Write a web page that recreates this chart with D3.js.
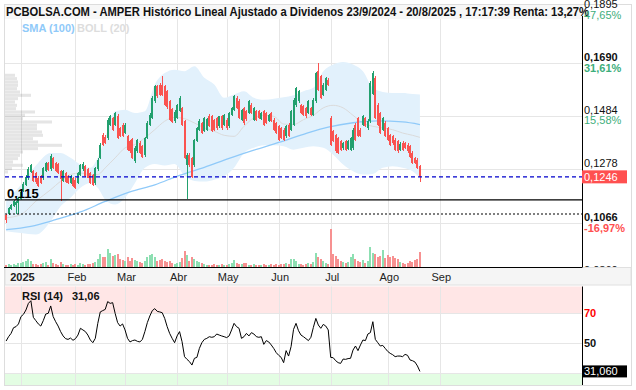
<!DOCTYPE html>
<meta charset="utf-8">
<script src="https://d3js.org/d3.v7.min.js"></script>
<style>
  body { margin: 0; background: #fff; }
  text { font-family: "Liberation Sans", Arial, sans-serif; }
</style>

<svg id="chart" width="636" height="390"></svg>

<script>

  // month ticks (bar index of the first session of each month, Dec 20 2024 = 0)
  var months   = ["2025", "Feb", "Mar", "Abr", "May", "Jun", "Jul", "Ago", "Sep"];
  var monthIdx = [6, 28, 48, 69, 89, 110, 131, 154, 175];

  // daily candles [open, high, low, close]
  var ohlc = [
    [.1096,.1100,.1066,.1079],[.1100,.1127,.1097,.1124],[.1120,.1142,.1115,.1138],[.1133,.1155,.1128,.1150],
    [.1135,.1152,.1101,.1148],[.1145,.1168,.1101,.1163],[.1160,.1192,.1155,.1188],[.1190,.1225,.1186,.1220],
    [.1215,.1252,.1210,.1246],[.1240,.1285,.1232,.1278],[.1265,.1298,.1260,.1292],[.1268,.1274,.1226,.1230],
    [.1262,.1266,.1220,.1225],[.1242,.1250,.1205,.1210],[.1250,.1255,.1218,.1222],[.1240,.1285,.1235,.1280],
    [.1270,.1305,.1265,.1300],[.1300,.1305,.1268,.1272],[.1275,.1334,.1270,.1328],[.1320,.1325,.1278,.1282],
    [.1300,.1305,.1265,.1270],[.1295,.1300,.1258,.1262],[.1268,.1272,.1150,.1236],[.1230,.1272,.1226,.1268],
    [.1262,.1266,.1222,.1226],[.1249,.1252,.1218,.1222],[.1222,.1252,.1218,.1249],[.1242,.1246,.1205,.1210],
    [.1235,.1240,.1200,.1203],[.1222,.1265,.1218,.1262],[.1255,.1298,.1250,.1294],[.1275,.1302,.1270,.1297],
    [.1288,.1292,.1245,.1249],[.1275,.1280,.1240,.1242],[.1262,.1265,.1220,.1222],[.1255,.1258,.1212,.1216],
    [.1222,.1285,.1215,.1281],[.1275,.1318,.1270,.1313],[.1320,.1378,.1315,.1372],[.1410,.1418,.1368,.1372],
    [.1400,.1408,.1375,.1378],[.1397,.1475,.1390,.1469],[.1450,.1488,.1445,.1482],[.1475,.1480,.1425,.1430],
    [.1450,.1500,.1445,.1495],[.1482,.1490,.1392,.1397],[.1437,.1442,.1400,.1405],[.1450,.1455,.1400,.1405],
    [.1418,.1455,.1412,.1450],[.1404,.1410,.1348,.1352],[.1385,.1390,.1340,.1345],[.1392,.1397,.1315,.1320],
    [.1307,.1365,.1300,.1360],[.1345,.1395,.1340,.1390],[.1378,.1385,.1335,.1340],[.1365,.1370,.1320,.1325],
    [.1332,.1402,.1325,.1397],[.1397,.1462,.1392,.1456],[.1450,.1495,.1445,.1489],[.1475,.1560,.1470,.1554],
    [.1540,.1605,.1535,.1599],[.1599,.1605,.1555,.1560],[.1605,.1612,.1562,.1567],[.1605,.1638,.1560,.1567],
    [.1599,.1605,.1522,.1527],[.1580,.1585,.1512,.1517],[.1540,.1545,.1462,.1468],[.1510,.1515,.1455,.1460],
    [.1462,.1505,.1455,.1500],[.1475,.1530,.1470,.1525],[.1503,.1560,.1498,.1554],[.1515,.1520,.1445,.1450],
    [.1463,.1468,.1315,.1320],[.1293,.1338,.1158,.1333],[.1333,.1340,.1285,.1293],[.1320,.1325,.1240,.1245],
    [.1293,.1393,.1285,.1388],[.1385,.1440,.1380,.1437],[.1430,.1470,.1425,.1463],[.1455,.1460,.1415,.1418],
    [.1425,.1480,.1420,.1476],[.1430,.1475,.1425,.1470],[.1482,.1490,.1440,.1445],[.1482,.1487,.1420,.1424],
    [.1466,.1470,.1425,.1430],[.1475,.1480,.1430,.1436],[.1443,.1485,.1438,.1482],[.1482,.1488,.1430,.1436],
    [.1450,.1492,.1445,.1488],[.1469,.1475,.1430,.1436],[.1443,.1500,.1438,.1495],[.1489,.1520,.1485,.1515],
    [.1508,.1565,.1502,.1560],[.1554,.1562,.1510,.1515],[.1541,.1548,.1470,.1476],[.1469,.1512,.1462,.1508],
    [.1515,.1520,.1450,.1456],[.1502,.1508,.1465,.1470],[.1495,.1545,.1490,.1541],[.1528,.1535,.1490,.1495],
    [.1469,.1520,.1465,.1515],[.1502,.1508,.1465,.1469],[.1502,.1508,.1470,.1476],[.1472,.1500,.1468,.1495],
    [.1502,.1508,.1445,.1450],[.1495,.1500,.1452,.1456],[.1462,.1492,.1458,.1488],[.1495,.1500,.1458,.1462],
    [.1469,.1475,.1425,.1430],[.1456,.1460,.1412,.1417],[.1443,.1450,.1385,.1391],[.1436,.1442,.1392,.1397],
    [.1430,.1435,.1385,.1391],[.1404,.1448,.1398,.1443],[.1450,.1455,.1400,.1404],[.1430,.1505,.1425,.1502],
    [.1450,.1552,.1445,.1547],[.1527,.1598,.1520,.1592],[.1540,.1585,.1535,.1580],[.1527,.1532,.1490,.1495],
    [.1521,.1525,.1482,.1488],[.1515,.1520,.1475,.1482],[.1495,.1545,.1490,.1541],[.1515,.1520,.1482,.1488],
    [.1488,.1552,.1482,.1547],[.1541,.1655,.1535,.1651],[.1657,.1690,.1582,.1586],[.1638,.1645,.1548,.1554],
    [.1567,.1612,.1560,.1605],[.1586,.1636,.1580,.1631],[.1625,.1632,.1600,.1605],[.1475,.1482,.1365,.1372],
    [.1424,.1430,.1380,.1385],[.1410,.1415,.1340,.1346],[.1397,.1402,.1335,.1340],[.1385,.1390,.1348,.1352],
    [.1359,.1382,.1352,.1378],[.1385,.1390,.1348,.1352],[.1356,.1390,.1350,.1385],[.1352,.1402,.1346,.1397],
    [.1359,.1435,.1352,.1430],[.1450,.1455,.1385,.1391],[.1475,.1480,.1400,.1404],[.1430,.1436,.1400,.1404],
    [.1450,.1488,.1445,.1482],[.1475,.1480,.1440,.1443],[.1436,.1470,.1430,.1462],[.1462,.1618,.1455,.1612],
    [.1570,.1660,.1565,.1650],[.1632,.1640,.1470,.1476],[.1528,.1535,.1445,.1450],[.1495,.1500,.1412,.1417],
    [.1430,.1480,.1425,.1475],[.1456,.1462,.1400,.1404],[.1436,.1440,.1385,.1391],[.1410,.1415,.1365,.1372],
    [.1404,.1410,.1372,.1378],[.1391,.1398,.1348,.1352],[.1385,.1390,.1340,.1346],[.1352,.1380,.1346,.1375],
    [.1378,.1385,.1348,.1352],[.1378,.1383,.1355,.1359],[.1372,.1378,.1340,.1346],[.1365,.1370,.1318,.1325],
    [.1339,.1345,.1295,.1300],[.1320,.1325,.1295,.1300],[.1313,.1318,.1275,.1280],[.1287,.1292,.1227,.1246]
  ];

  // volume (millions of shares)
  var volume = [
    0.6,0.8,0.5,0.7,0.6,1.0,
    1.0,1.2,1.4,1.9,1.6,0.8,0.7,0.6,0.8,1.0,1.2,0.6,1.9,0.9,0.7,0.6,1.2,0.8,0.6,0.5,0.7,0.6,
    0.8,0.6,0.9,0.7,0.6,0.8,0.7,0.9,1.2,2.0,3.2,2.5,2.4,4.4,3.5,2.8,3.0,3.2,2.0,1.8,
    1.5,2.4,1.6,2.2,1.8,1.4,1.2,1.0,1.6,2.4,3.0,3.2,2.6,1.6,1.8,2.0,1.5,1.2,1.5,1.0,0.8,
    1.0,1.2,2.2,4.0,3.0,1.6,2.4,2.0,1.5,1.2,1.0,0.8,0.6,0.6,0.5,0.7,0.6,0.5,0.8,0.5,
    0.6,0.8,0.9,1.7,1.0,0.8,0.7,1.0,0.9,0.6,0.5,0.7,0.5,0.6,0.4,0.8,0.6,0.5,0.7,0.6,0.8,
    0.6,0.8,0.7,0.9,0.8,2.1,2.0,1.4,0.8,0.7,0.6,0.8,1.0,0.7,1.2,3.6,2.5,2.0,1.5,1.0,0.8,
    9.5,3.3,2.8,2.0,1.5,1.2,1.0,1.3,2.4,3.2,2.0,1.5,1.2,1.8,1.0,1.5,5.0,3.5,3.2,2.5,2.8,4.3,2.2,
    3.0,2.5,2.8,2.2,2.0,1.2,1.0,0.8,1.0,1.6,1.2,1.8,2.0,3.8
  ];

  // RSI (14)
  var rsi = [
    51.3,54.2,56.4,60.2,60.9,62.7,67.6,69.1,72.0,76.4,78.2,67.1,64.9,62.7,61.3,64.9,69.3,69.8,74.7,67.6,
    64.2,61.3,57.6,54.7,52.9,52.4,53.3,51.8,52.9,55.3,59.8,58.7,57.6,55.3,52.0,50.2,53.1,63.1,70.7,71.6,
    72.4,77.6,76.4,76.9,69.8,63.6,61.3,62.7,58.7,53.1,50.7,51.6,52.0,51.1,50.7,52.4,57.6,63.6,68.0,71.6,
    72.9,71.1,70.7,70.2,66.4,60.9,56.4,53.1,50.2,54.7,57.6,50.9,40.9,39.1,37.6,35.3,39.8,40.4,46.4,50.2,
    52.4,53.1,54.2,53.8,54.2,56.0,55.3,54.7,54.2,53.6,54.7,58.7,63.1,60.9,59.8,53.1,54.2,56.4,54.7,56.9,
    56.0,54.2,53.8,54.2,49.1,51.6,50.7,48.7,46.4,43.6,41.8,40.4,36.9,44.9,41.3,47.6,59.1,63.1,58.2,55.3,
    54.2,52.9,51.6,53.8,60.4,66.4,62.0,59.8,62.4,61.3,58.7,40.4,40.2,38.2,36.9,36.4,39.3,39.1,39.6,39.8,
    45.3,48.0,44.9,48.7,52.0,51.6,56.0,56.9,64.2,52.4,50.2,48.0,48.4,46.4,44.4,43.1,42.2,40.9,41.3,41.3,
    40.9,42.4,41.8,38.7,38.2,37.3,34.7,31.06
  ];

  // Bollinger (20) read at these bars
  var bollIdx = [0,6,12,18,22,26,30,34,37,40,44,48,52,56,60,64,68,72,76,80,84,88,92,96,100,104,108,112,116,120,
                 124,128,132,136,140,144,148,152,156,160,164,167];
  var bollUp  = [.1150,.1215,.1290,.1339,.1339,.1320,.1294,.1281,.1320,.1398,.1502,.1508,.1495,.1502,.1606,.1651,
                 .1664,.1658,.1677,.1632,.1606,.1554,.1567,.1580,.1554,.1547,.1551,.1556,.1564,.1580,.1593,.1658,
                 .1684,.1694,.1684,.1658,.1593,.1577,.1573,.1573,.1569,.1567];
  var bollMid = [.1086,.1099,.1151,.1196,.1229,.1255,.1261,.1255,.1255,.1281,.1320,.1359,.1372,.1398,.1430,.1463,
                 .1478,.1473,.1456,.1437,.1424,.1408,.1404,.1443,.1476,.1486,.1482,.1452,.1450,.1469,.1486,.1515,
                 .1525,.1515,.1486,.1456,.1443,.1437,.1430,.1417,.1408,.1400];
  var bollLow = [.1034,.1027,.1021,.1073,.1131,.1164,.1203,.1222,.1203,.1157,.1138,.1164,.1222,.1281,.1296,.1290,
                 .1296,.1250,.1230,.1228,.1235,.1248,.1281,.1339,.1359,.1369,.1369,.1365,.1352,.1359,.1365,.1359,
                 .1332,.1294,.1268,.1255,.1257,.1281,.1287,.1281,.1268,.1242];

  // SMA (100)
  var smaIdx = [0,10,20,30,40,50,60,70,80,90,100,110,120,130,140,150,160,167];
  var smaVal = [.1040,.1053,.1079,.1109,.1150,.1187,.1215,.1252,.1283,.1318,.1350,.1380,.1412,.1440,.1457,.1464,.1460,.1450];

  // volume by price profile
  var profilePrice = [.1642,.1629,.1616,.1603,.1590,.1577,.1564,.1551,.1538,.1525,.1512,.1499,.1486,.1473,.1460,
                      .1447,.1434,.1421,.1408,.1395,.1382,.1369,.1356,.1343,.1330,.1317,.1304,.1291,.1278,.1265];
  var profileVol   = [10,12,13,13,12,15,26,13,10,12,11,30,20,18,47,32,32,37,38,28,33,57,33,18,15,13,8,18,7,3];

  // price axis (percent labels hidden by the price box / axis strip are left empty)
  var priceTicks  = [0.1895, 0.1690, 0.1484, 0.1278, 0.1066, 0.0860];
  var priceLabels = ["0,1895", "0,1690", "0,1484", "0,1278", "0,1066", "0,0860"];
  var pctLabels   = ["47,65%", "31,61%", "15,58%", "", "-16,97%", ""];
  var lastPrice = 0.1246, lastLabel = "0,1246";
  var supportLine = 0.1156, supportLabel = "0,115";
  var supportLine2 = 0.1101;

  // rsi axis
  var rsiTicks = [70, 50, 30];
  var rsiTickLabels = ["70", "50", ""];
  var rsiLast = "31,060", rsiHeader = "31,06";

  var title = "PCBOLSA.COM - AMPER Histórico Lineal Ajustado a Dividenos 23/9/2024 - 20/8/2025 , 17:17:39 Renta: 13,27%";

  var svg = d3.select("#chart");
  var plotL = 5, plotR = 582.5;
  var green = "#22a06e", red = "#fa5350";

  // scales
  var x = d3.scaleLinear().domain([0, 175]).range([6.1, 439.75]);
  var y = d3.scaleLinear().domain([0.1066, 0.1690]).range([223, 63]);
  var yVol = d3.scaleLinear().domain([0, 10]).range([267, 227]);
  var yRsi = d3.scaleLinear().domain([30, 70]).range([373, 313]);
  var xProf = d3.scaleLinear().domain([0, 57]).range([5, 62]);

  svg.append("defs").append("clipPath").attr("id", "pclip")
    .append("rect").attr("x", plotL).attr("y", 19).attr("width", plotR - plotL).attr("height", 248);

  // frame
  svg.append("rect").attr("x", 4.5).attr("y", 4.5).attr("width", 627).attr("height", 381)
    .attr("fill", "#fff").attr("stroke", "#ddd");

  // grid
  var grid = svg.append("g").attr("stroke", "#e6e6e6").attr("stroke-width", 1);
  grid.selectAll(".vg").data(monthIdx).enter().append("line")
    .attr("x1", function(d){ return Math.round(x(d)) + 0.5 }).attr("x2", function(d){ return Math.round(x(d)) + 0.5 })
    .attr("y1", 19).attr("y2", 267);
  grid.selectAll(".hg").data(priceTicks).enter().append("line")
    .attr("x1", plotL).attr("x2", plotR)
    .attr("y1", function(d){ return Math.round(y(d)) + 0.5 }).attr("y2", function(d){ return Math.round(y(d)) + 0.5 });

  var plot = svg.append("g").attr("clip-path", "url(#pclip)");

  // bollinger band
  var band = bollIdx.map(function(d, i){ return { i: d, up: bollUp[i], mid: bollMid[i], low: bollLow[i] } });
  plot.append("path").datum(band)
    .attr("fill", "#e2f1fc")
    .attr("d", d3.area().x(function(d){ return x(d.i) }).y0(function(d){ return y(d.low) }).y1(function(d){ return y(d.up) }).curve(d3.curveMonotoneX));

  // volume profile
  plot.selectAll(".prof").data(profilePrice).enter().append("rect")
    .attr("x", plotL)
    .attr("y", function(d){ return y(d + 0.00060) })
    .attr("width", function(d, i){ return xProf(profileVol[i]) - plotL })
    .attr("height", function(d){ return y(d - 0.00060) - y(d + 0.00060) })
    .attr("fill", "#000").attr("fill-opacity", 0.1);

  plot.append("path").datum(band)
    .attr("fill", "none").attr("stroke", "#dadada").attr("stroke-width", 1)
    .attr("d", d3.line().x(function(d){ return x(d.i) }).y(function(d){ return y(d.mid) }).curve(d3.curveMonotoneX));

  // sma 100
  plot.append("path").datum(smaIdx)
    .attr("fill", "none").attr("stroke", "#90caf9").attr("stroke-width", 1.3)
    .attr("d", d3.line().x(function(d){ return x(d) }).y(function(d, i){ return y(smaVal[i]) }).curve(d3.curveMonotoneX));

  // volume bars
  plot.selectAll(".vol").data(volume).enter().append("rect")
    .attr("x", function(d, i){ return Math.round(x(i) - 1) })
    .attr("y", function(d){ return yVol(d) })
    .attr("width", 2)
    .attr("height", function(d){ return 267 - yVol(d) })
    .attr("fill", function(d, i){ return ohlc[i][3] >= ohlc[i][0] ? "#8ddfb2" : "#f79191" })
    .attr("shape-rendering", "crispEdges");

  // candles
  var candles = plot.selectAll(".candle").data(ohlc).enter().append("g")
    .attr("fill", function(d){ return d[3] >= d[0] ? green : red })
    .attr("shape-rendering", "crispEdges");
  candles.append("rect")
    .attr("x", function(d, i){ return Math.round(x(i)) })
    .attr("width", 1)
    .attr("y", function(d){ return y(d[1]) })
    .attr("height", function(d){ return y(d[2]) - y(d[1]) });
  candles.append("rect")
    .attr("x", function(d, i){ return Math.round(x(i) - 1) })
    .attr("width", 2)
    .attr("y", function(d){ return y(Math.max(d[0], d[3])) })
    .attr("height", function(d){ return Math.max(1, Math.abs(y(d[0]) - y(d[3]))) });

  // level lines
  svg.append("line").attr("x1", plotL).attr("x2", plotR)
    .attr("y1", y(supportLine)).attr("y2", y(supportLine))
    .attr("stroke", "#000").attr("stroke-width", 1.3);
  svg.append("line").attr("x1", plotL).attr("x2", plotR)
    .attr("y1", y(supportLine2)).attr("y2", y(supportLine2))
    .attr("stroke", "#000").attr("stroke-width", 1.1).attr("stroke-dasharray", "2,2");
  svg.append("line").attr("x1", plotL).attr("x2", plotR)
    .attr("y1", y(lastPrice)).attr("y2", y(lastPrice))
    .attr("stroke", "#0000cc").attr("stroke-width", 1.2).attr("stroke-dasharray", "4,3");
  svg.append("text").attr("x", 7).attr("y", y(supportLine) - 2)
    .attr("font-size", 13).attr("font-weight", "bold").attr("fill", "#000").text(supportLabel);

  // title and legend
  svg.append("rect").attr("x", 5).attr("y", 5).attr("width", 577).attr("height", 14).attr("fill", "#f7f7f7");
  svg.append("text").attr("x", 6).attr("y", 16)
    .attr("font-size", 12).attr("font-weight", "bold").attr("fill", "#111")
    .attr("textLength", 583).attr("lengthAdjust", "spacingAndGlyphs")
    .text(title);
  svg.append("text").attr("x", 22).attr("y", 32).attr("font-size", 11).attr("font-weight", "bold")
    .attr("fill", "#90caf9").text("SMA (100)");
  svg.append("text").attr("x", 77).attr("y", 32).attr("font-size", 11).attr("font-weight", "bold")
    .attr("fill", "#dddddd").text("BOLL (20)");

  // right price axis
  svg.append("line").attr("x1", plotR).attr("x2", plotR).attr("y1", 16).attr("y2", 267)
    .attr("stroke", "#000").attr("stroke-width", 1);
  var ticks = svg.append("g").attr("font-size", 11);
  ticks.selectAll(".pl").data(priceTicks).enter().append("text")
    .attr("x", 584).attr("y", function(d){ return y(d) - 2 })
    .attr("fill", "#111")
    .attr("font-weight", function(d, i){ return (i == 1 || i == 4) ? "bold" : "normal" })
    .text(function(d, i){ return priceLabels[i] });
  ticks.selectAll(".pc").data(priceTicks.filter(function(d, i){ return pctLabels[i] })).enter().append("text")
    .attr("x", 584).attr("y", function(d){ return y(d) + 8.5 })
    .attr("fill", function(d){ return pctLabels[priceTicks.indexOf(d)].charAt(0) == "-" ? "#ff4f4f" : "#3dae7b" })
    .attr("font-weight", function(d){ var i = priceTicks.indexOf(d); return (i == 1 || i == 4) ? "bold" : "normal" })
    .text(function(d){ return pctLabels[priceTicks.indexOf(d)] });

  // last price box
  svg.append("rect").attr("x", 582).attr("y", y(lastPrice) - 6.5).attr("width", 45).attr("height", 13).attr("fill", "#ff5050");
  svg.append("text").attr("x", 584).attr("y", y(lastPrice) + 4).attr("font-size", 11).attr("fill", "#fff").text(lastLabel);

  // x axis strip
  svg.append("rect").attr("x", 5).attr("y", 267.5).attr("width", 626).attr("height", 17.5)
    .attr("fill", "#f5f5f5").attr("stroke", "#e0e0e0");
  svg.append("line").attr("x1", 4).attr("x2", plotR).attr("y1", 267.5).attr("y2", 267.5)
    .attr("stroke", "#000").attr("stroke-width", 1.2);
  svg.selectAll(".ml").data(months).enter().append("text")
    .attr("x", function(d, i){ return x(monthIdx[i]) + 1.5 })
    .attr("y", 280.5)
    .attr("text-anchor", "middle").attr("font-size", 11)
    .attr("font-weight", function(d, i){ return i == 0 ? "bold" : "normal" })
    .attr("fill", "#222")
    .text(function(d){ return d });

  // RSI panel
  var rTop = 286.5, rBot = 385;
  svg.append("rect").attr("x", plotL).attr("y", rTop).attr("width", plotR - plotL).attr("height", yRsi(70) - rTop).attr("fill", "#ffe6e6");
  svg.append("rect").attr("x", plotL).attr("y", yRsi(30)).attr("width", plotR - plotL).attr("height", rBot - yRsi(30)).attr("fill", "#e3fde3");
  var rgrid = svg.append("g").attr("stroke", "#e6e6e6");
  rgrid.selectAll(".rv").data(monthIdx).enter().append("line")
    .attr("x1", function(d){ return Math.round(x(d)) + 0.5 }).attr("x2", function(d){ return Math.round(x(d)) + 0.5 })
    .attr("y1", rTop).attr("y2", rBot);
  rgrid.selectAll(".rh").data(rsiTicks).enter().append("line")
    .attr("x1", plotL).attr("x2", plotR)
    .attr("y1", function(d){ return Math.round(yRsi(d)) + 0.5 }).attr("y2", function(d){ return Math.round(yRsi(d)) + 0.5 });

  svg.append("path").datum(rsi)
    .attr("fill", "none").attr("stroke", "#000").attr("stroke-width", 1)
    .attr("d", d3.line().x(function(d, i){ return x(i) }).y(function(d){ return yRsi(d) }));

  svg.append("line").attr("x1", plotR).attr("x2", plotR).attr("y1", rTop).attr("y2", rBot)
    .attr("stroke", "#000").attr("stroke-width", 1);
  svg.selectAll(".rl").data(rsiTicks.filter(function(d, i){ return rsiTickLabels[i] })).enter().append("text")
    .attr("x", 584).attr("y", function(d){ return yRsi(d) + 4 })
    .attr("font-size", 11).attr("font-weight", "bold")
    .attr("fill", function(d){ return d == 70 ? "#ff0000" : "#111" })
    .text(function(d){ return rsiTickLabels[rsiTicks.indexOf(d)] });
  svg.append("rect").attr("x", 582).attr("y", yRsi(+rsi[rsi.length - 1]) - 6).attr("width", 45).attr("height", 12).attr("fill", "#000");
  svg.append("text").attr("x", 584).attr("y", yRsi(+rsi[rsi.length - 1]) + 4)
    .attr("font-size", 11).attr("fill", "#fff").text(rsiLast);

  svg.append("text").attr("x", 22).attr("y", 299.5).attr("font-size", 11).attr("font-weight", "bold")
    .attr("fill", "#111").text("RSI (14)");
  svg.append("text").attr("x", 72).attr("y", 299.5).attr("font-size", 11).attr("font-weight", "bold")
    .attr("fill", "#111").text(rsiHeader);

</script>
